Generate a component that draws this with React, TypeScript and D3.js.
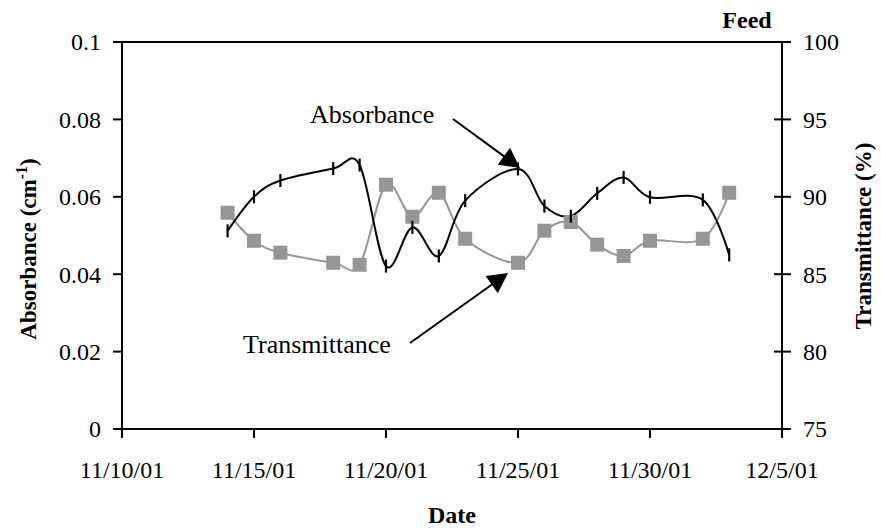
import React from "react";
import * as d3 from "d3";

const dates = [
  "2001-11-14", "2001-11-15", "2001-11-16", "2001-11-18", "2001-11-19",
  "2001-11-20", "2001-11-21", "2001-11-22", "2001-11-23", "2001-11-25",
  "2001-11-26", "2001-11-27", "2001-11-28", "2001-11-29", "2001-11-30",
  "2001-12-02", "2001-12-03",
];
const absorbance = [
  0.0512, 0.06, 0.0642, 0.0673, 0.0682, 0.0421, 0.0521, 0.0447, 0.059,
  0.0672, 0.0576, 0.055, 0.0609, 0.065, 0.0599, 0.0592, 0.045,
];
const transmittance = [
  88.97, 87.16, 86.39, 85.74, 85.61, 90.78, 88.71, 90.26, 87.29, 85.74,
  87.81, 88.37, 86.91, 86.18, 87.16, 87.29, 90.26,
];
const dateTicks = ["2001-11-10", "2001-11-15", "2001-11-20", "2001-11-25", "2001-11-30", "2001-12-05"];
const leftTicks = [0, 0.02, 0.04, 0.06, 0.08, 0.1];
const leftTickLabels = ["0", "0.02", "0.04", "0.06", "0.08", "0.1"];
const rightTicks = [75, 80, 85, 90, 95, 100];

const W = 881;
const H = 531;
const L = 122, R = 782, T = 42, B = 429;
const FONT = "'Liberation Serif', 'Times New Roman', serif";
const GRAY = "#969696";

const parse = (s: string) => new Date(s + "T00:00:00Z");

function Arrow({ x1, y1, x2, y2 }: { x1: number; y1: number; x2: number; y2: number }) {
  const len = 20, hw = 10.5;
  const dx = x2 - x1, dy = y2 - y1;
  const d = Math.hypot(dx, dy);
  const ux = dx / d, uy = dy / d;
  const bx = x2 - ux * len, by = y2 - uy * len;
  const px = -uy, py = ux;
  const pts = `${x2},${y2} ${bx + px * hw},${by + py * hw} ${bx - px * hw},${by - py * hw}`;
  return (
    <g>
      <line x1={x1} y1={y1} x2={bx + ux * 2} y2={by + uy * 2} stroke="#000" strokeWidth={2} />
      <polygon points={pts} fill="#000" />
    </g>
  );
}

export default function App() {
  const x = d3.scaleUtc().domain([parse("2001-11-10"), parse("2001-12-05")]).range([L, R]);
  const yL = d3.scaleLinear().domain([0, 0.1]).range([B, T]);
  const yR = d3.scaleLinear().domain([75, 100]).range([B, T]);
  const fmt = d3.utcFormat("%-m/%-d/%y");

  const absPts: [number, number][] = dates.map((d, i) => [x(parse(d)), yL(absorbance[i])]);
  const trPts: [number, number][] = dates.map((d, i) => [x(parse(d)), yR(transmittance[i])]);
  const line = d3.line<[number, number]>().curve(d3.curveCardinal.tension(0));

  return (
    <svg width={W} height={H} style={{ position: "absolute", left: 0, top: 0, background: "#fff" }} fontFamily={FONT}>
      <rect x={0} y={0} width={W} height={H} fill="#fff" />
      {/* series */}
      <path d={line(trPts) || ""} fill="none" stroke={GRAY} strokeWidth={2} />
      <path d={line(absPts) || ""} fill="none" stroke="#000" strokeWidth={2} />
      {trPts.map(([px, py], i) => (
        <rect key={"t" + i} x={px - 7} y={py - 7} width={14} height={14} fill={GRAY} />
      ))}
      {absPts.map(([px, py], i) => (
        <line key={"a" + i} x1={px} x2={px} y1={py - 6.5} y2={py + 6.5} stroke="#000" strokeWidth={2.2} />
      ))}

      {/* axes frame */}
      <line x1={L} x2={R} y1={T} y2={T} stroke="#000" strokeWidth={2} />
      <line x1={L} x2={R} y1={B} y2={B} stroke="#000" strokeWidth={2} />
      <line x1={L} x2={L} y1={T} y2={B} stroke="#000" strokeWidth={2} />
      <line x1={R} x2={R} y1={T} y2={B} stroke="#000" strokeWidth={2} />

      {/* left ticks */}
      {leftTicks.map((v, i) => (
        <g key={"lt" + i}>
          <line x1={L - 9} x2={L} y1={yL(v)} y2={yL(v)} stroke="#000" strokeWidth={2} />
          <text x={101} y={yL(v)} dy="0.35em" textAnchor="end" fontSize={24} fill="#000">
            {leftTickLabels[i]}
          </text>
        </g>
      ))}
      {/* right ticks */}
      {rightTicks.map((v, i) => (
        <g key={"rt" + i}>
          <line x1={R - 8} x2={R + 9} y1={yR(v)} y2={yR(v)} stroke="#000" strokeWidth={2} />
          <text x={803} y={yR(v)} dy="0.35em" textAnchor="start" fontSize={24} fill="#000">
            {v}
          </text>
        </g>
      ))}
      {/* x ticks */}
      {dateTicks.map((d, i) => (
        <g key={"xt" + i}>
          <line x1={x(parse(d))} x2={x(parse(d))} y1={B} y2={B + 9} stroke="#000" strokeWidth={2} />
          <text x={x(parse(d))} y={478} textAnchor="middle" fontSize={24} fill="#000">
            {fmt(parse(d))}
          </text>
        </g>
      ))}

      {/* titles */}
      <text x={(L + R) / 2} y={523} textAnchor="middle" fontSize={24} fontWeight="bold">Date</text>
      <text x={747} y={28} textAnchor="middle" fontSize={24} fontWeight="bold">Feed</text>
      <text transform="translate(36,249) rotate(-90)" textAnchor="middle" fontSize={23} fontWeight="bold">
        Absorbance (cm<tspan fontSize={16} dy={-9}>-1</tspan><tspan dy={9}>)</tspan>
      </text>
      <text transform="translate(871,236) rotate(-90)" textAnchor="middle" fontSize={23} fontWeight="bold">
        Transmittance (%)
      </text>

      {/* annotations */}
      <text x={310} y={123} fontSize={26}>Absorbance</text>
      <Arrow x1={453} y1={119} x2={520} y2={168} />
      <text x={243} y={353} fontSize={26}>Transmittance</text>
      <Arrow x1={410} y1={343} x2={508} y2={273} />
    </svg>
  );
}
